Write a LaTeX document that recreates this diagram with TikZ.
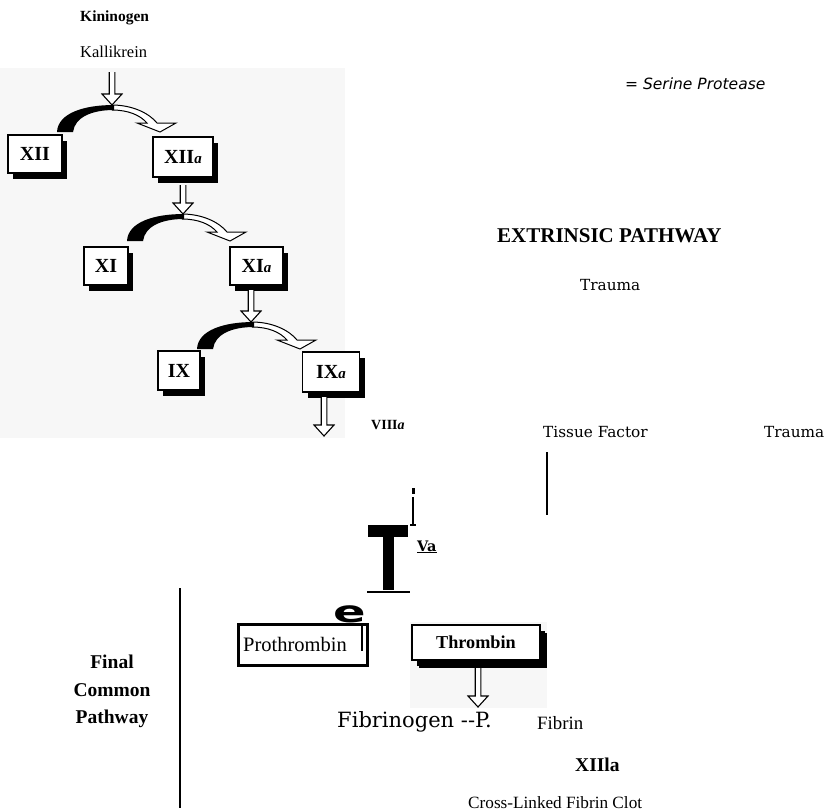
\documentclass[tikz,border=0pt]{standalone}
\usepackage{fontspec}
\setmainfont{Liberation Serif}
\newfontfamily\bookfam{DejaVu Serif}
\newfontfamily\vsans{DejaVu Sans}
\usetikzlibrary{calc,shadows}
\newcommand\fs[1]{\fontsize{#1}{#1}\selectfont}
\tikzset{
  fbox/.style={draw, fill=white, line width=1.3pt, inner sep=0pt, font=\fs{20}\bfseries,
    drop shadow={shadow xshift=5pt, shadow yshift=-6pt, fill=black, opacity=1}},
  txt/.style={anchor=base west, inner sep=0pt},
  hollowarr/.style={draw=black, fill=white, line width=1.1pt, line join=miter},
  scanbg/.style={fill=black!3, draw=none},
  bar/.style={line width=2.5pt}
}
\newcommand\harrow[2]{\draw[hollowarr] let \p1=(#1), \p2=(#2) in
  (\x1-2.8pt,\y1) -- (\x1-2.8pt,\y2+11pt) -- (\x1-10pt,\y2+11pt) -- (\x1,\y2)
  -- (\x1+10pt,\y2+11pt) -- (\x1+2.8pt,\y2+11pt) -- (\x1+2.8pt,\y1);}
\newcommand\curvearr[1]{\begin{scope}[shift={(#1)}]
  \draw[hollowarr, line width=1pt] (0,0) .. controls (20,0) and (37,8) .. (45,18) -- (64,18)
     -- (48,27) -- (25,18) -- (35,18) .. controls (28,10) and (16,5) .. (0,5);
  \fill (-55,27) .. controls (-54,8) and (-28,0) .. (2,0) -- (2,5)
     .. controls (-20,5) and (-37,12) .. (-39,27) -- cycle;
\end{scope}}
\begin{document}
\begin{tikzpicture}[x=1pt,y=-1pt]
\useasboundingbox (0,0) rectangle (826,811);
% scanned backgrounds
\fill[scanbg] (0,68) rectangle (345,438);
\fill[scanbg] (410,622) rectangle (547,708);

% top labels
\node[txt, font=\fs{15.5}\bfseries] (kin) at (80,21) {Kininogen};
\node[txt, font=\fs{16.5}] (kal) at (80,57) {Kallikrein};

% cascade
\coordinate (p1) at (112,105);
\coordinate (p2) at (182,214);
\coordinate (p3) at (252,322);
\coordinate (a0s) at (112,72);
\coordinate (a1s) at (183,185);
\coordinate (a2s) at (251,290);
\coordinate (a3s) at (324,397);
\coordinate (a3e) at (324,436);

\harrow{a0s}{p1}
\curvearr{p1}
\node[fbox, minimum width=54pt, minimum height=38pt] (xii) at (35,154) {XII};
\node[fbox, minimum width=60pt, minimum height=40pt] (xiia) at (183,157) {XII{\fs{15}\itshape a}};
\harrow{a1s}{p2}
\curvearr{p2}
\node[fbox, minimum width=44pt, minimum height=38pt] (xi) at (106,266) {XI};
\node[fbox, minimum width=53pt, minimum height=38pt] (xia) at (256.5,266) {XI{\fs{15}\itshape a}};
\harrow{a2s}{p3}
\curvearr{p3}
\node[fbox, minimum width=42pt, minimum height=39pt] (ix) at (179,370.5) {IX};
\node[fbox, minimum width=57pt, minimum height=40pt] (ixa) at (331,372) {IX{\fs{15}\itshape a}};
\harrow{a3s}{a3e}
\node[txt, font=\fs{14}\bfseries] (viiia) at (371,429) {VIII{\itshape a}};

% right side labels
\node[txt, font=\fs{15.5}\vsans\itshape] (ser) at (625,89) {= Serine Protease};
\node[txt, font=\fs{21}\bfseries] (ext) at (497,242) {EXTRINSIC PATHWAY};
\node[txt, font=\fs{15.3}\bookfam] (tr1) at (580,290) {Trauma};
\node[txt, font=\fs{15.3}\bookfam] (tf) at (543,437) {Tissue Factor};
\node[txt, font=\fs{15.3}\bookfam] (tr2) at (764,437) {Trauma};
\coordinate (tfl1) at (547,452);
\coordinate (tfl2) at (547,515);
\draw[bar] (tfl1) -- (tfl2);

% T glyph and marks
\fill (412,488) rectangle (414.5,494);
\draw[line width=1.8pt] (413,497) -- (413,525);
\draw[line width=1.5pt] (410,525) -- (416,525);
\fill (368,525) rectangle (408,537);
\fill (383,537) rectangle (394,590);
\draw[line width=2pt] (367,592) -- (410,592);
\node[txt, font=\fs{14.5}\bookfam\bfseries] (va) at (417,551) {\underline{Va}};
\node[txt, font=\fs{30}\vsans\bfseries] (e) at (333,622) {\scalebox{1.6}[1]{e}};

% final common pathway
\coordinate (fl1) at (180,588);
\coordinate (fl2) at (180,808);
\draw[bar] (fl1) -- (fl2);
\node[anchor=base, inner sep=0pt, font=\fs{19.5}\bfseries] (fcp1) at (112,668) {Final};
\node[anchor=base, inner sep=0pt, font=\fs{19.5}\bfseries] (fcp2) at (112,696) {Common};
\node[anchor=base, inner sep=0pt, font=\fs{19.5}\bfseries] (fcp3) at (112,723) {Pathway};

\node[draw, line width=3pt, minimum width=129pt, minimum height=41pt, inner sep=0pt] (probox) at (303,645) {};
\node[txt, font=\fs{20.5}] (pro) at (243,651) {Prothrombin};
\draw[line width=2.5pt] (362,625) -- (362,651);

\node[fbox, font=\fs{18.2}\bfseries, minimum width=128pt, minimum height=35pt,
  drop shadow={shadow xshift=7pt, shadow yshift=-8pt, fill=black, opacity=1}] (thr) at (476,642.5) {Thrombin};
\coordinate (a4s) at (478,668);
\coordinate (a4e) at (478,707);
\harrow{a4s}{a4e}

\node[txt, font=\fs{21}\bookfam] (fbg) at (337,727) {Fibrinogen --P.};
\node[txt, font=\fs{18.8}] (fib) at (537,729) {Fibrin};
\node[txt, font=\fs{19.5}\bfseries] (x13) at (575,771) {XIIla};
\node[txt, font=\fs{17.2}] (clot) at (468,808) {Cross-Linked Fibrin Clot};
\end{tikzpicture}
\end{document}
